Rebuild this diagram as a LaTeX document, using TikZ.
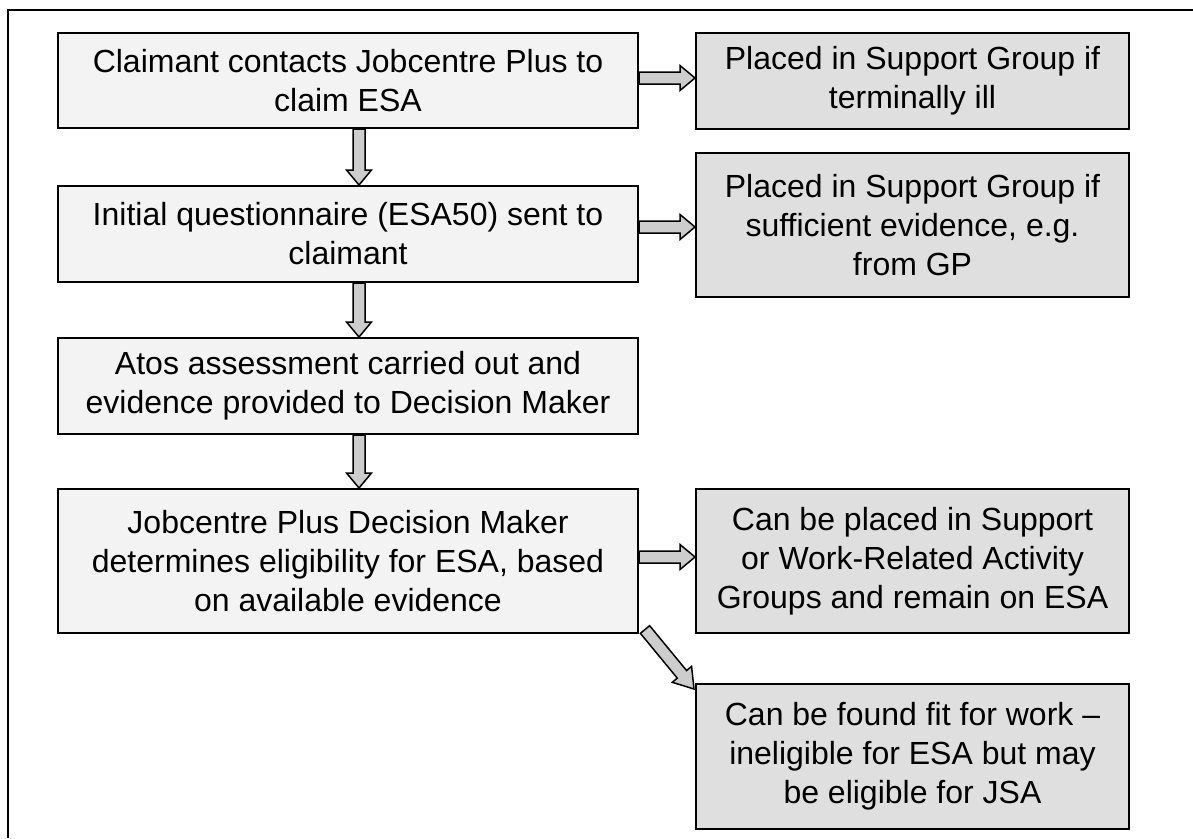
\documentclass[tikz,border=0pt]{standalone}
\usepackage{fontspec}
\setmainfont{Liberation Sans}
\usetikzlibrary{calc}
\definecolor{leftfill}{HTML}{F3F3F3}
\definecolor{rightfill}{HTML}{DFDFDF}
\definecolor{arrfill}{HTML}{CDCDCD}
\tikzset{
  base/.style={draw=black, line width=2pt, align=center, inner sep=0pt,
    font=\fontsize{32}{39}\selectfont},
  leftbox/.style={base, fill=leftfill, minimum width=580pt},
  rightbox/.style={base, fill=rightfill, minimum width=433pt},
  blockarrow/.style={draw=black, line width=1.5pt, fill=arrfill, line join=miter},
  frameline/.style={draw=black, line width=2pt}
}
\newcommand\blockarr[3][15pt]{%
  \coordinate (ba-s) at (#2);
  \coordinate (ba-e) at (#3);
  \coordinate (ba-h) at ($(ba-e)!#1!(ba-s)$);
  \draw[blockarrow] ($(ba-s)!6pt!90:(ba-e)$) -- ($(ba-h)!6pt!90:(ba-e)$)
    -- ($(ba-h)!12.5pt!90:(ba-e)$) -- (ba-e) -- ($(ba-h)!12.5pt!-90:(ba-e)$)
    -- ($(ba-h)!6pt!-90:(ba-e)$) -- ($(ba-s)!6pt!-90:(ba-e)$) -- cycle;}
\begin{document}
\begin{tikzpicture}[x=1pt,y=1pt]
\useasboundingbox (0,0) rectangle (1193,-838);
\fill[white] (0,0) rectangle (1193,-838);
\draw[frameline] (8,-838) -- (8,-10) -- (1193,-10);

\node[leftbox, minimum height=95pt] (A) at (348,-80.5) {Claimant contacts Jobcentre Plus to\\claim ESA};
\node[leftbox, minimum height=96pt] (B) at (348,-234) {Initial questionnaire (ESA50) sent to\\claimant};
\node[leftbox, minimum height=96pt] (C) at (348,-386) {Atos assessment carried out and\\evidence provided to Decision Maker};
\node[leftbox, minimum height=144pt] (D) at (348,-561) {Jobcentre Plus Decision Maker\\determines eligibility for ESA, based\\on available evidence};

\node[rightbox, minimum height=96pt] (Ap) at (912.5,-81) {Placed in Support Group if\\terminally ill};
\node[rightbox, minimum height=144pt] (Bp) at (912.5,-225) {Placed in Support Group if\\sufficient evidence, e.g.\\from GP};
\node[rightbox, minimum height=144pt] (E) at (912.5,-561) {Can be placed in Support\\or Work-Related Activity\\Groups and remain on ESA};
\node[rightbox, minimum height=145pt] (F) at (912.5,-756.5) {Can be found fit for work --\\ineligible for ESA but may\\be eligible for JSA};

\blockarr{[xshift=11pt]A.south}{[xshift=11pt]B.north}
\blockarr{[xshift=11pt]B.south}{[xshift=11pt]C.north}
\blockarr{[xshift=11pt]C.south}{[xshift=11pt]D.north}

\coordinate (r1s) at ([yshift=2.5pt]A.east);
\coordinate (r1e) at (r1s -| Ap.west);
\blockarr{r1s}{r1e}
\coordinate (r2s) at ([yshift=7pt]B.east);
\coordinate (r2e) at (r2s -| Bp.west);
\blockarr{r2s}{r2e}
\coordinate (r3s) at ([yshift=4pt]D.east);
\coordinate (r3e) at (r3s -| E.west);
\blockarr{r3s}{r3e}
\blockarr[19pt]{[shift={(6pt,4.5pt)}]D.south east}{[shift={(-1pt,-6pt)}]F.north west}
\end{tikzpicture}
\end{document}
